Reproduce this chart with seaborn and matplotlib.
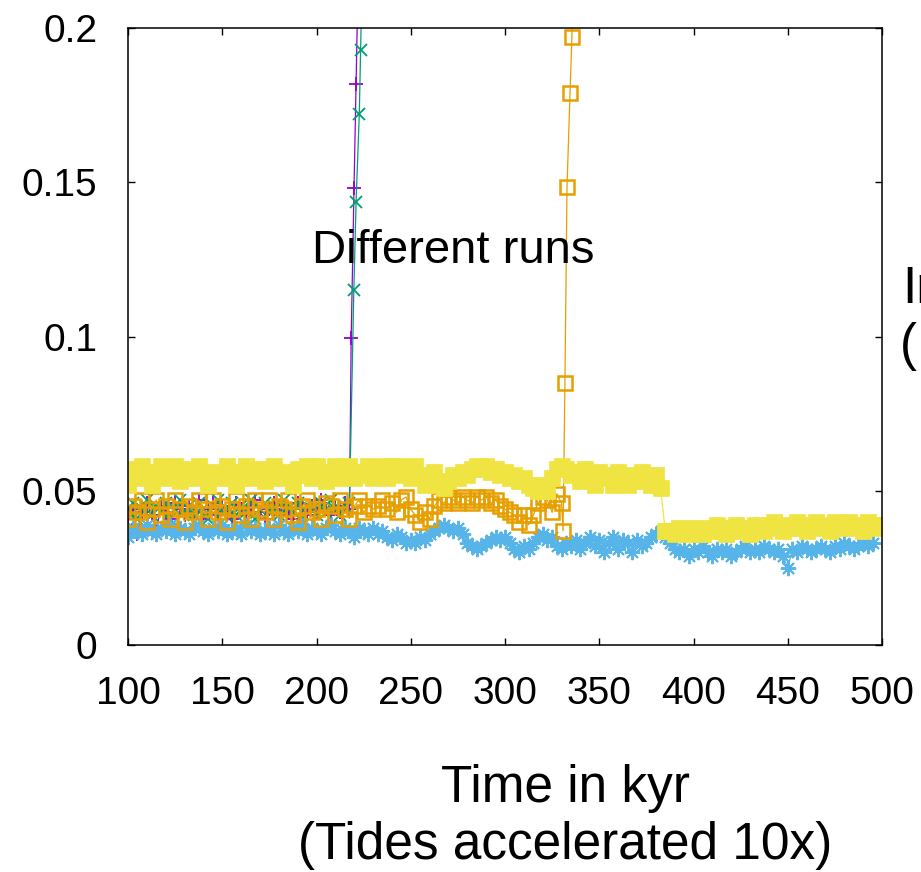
# %%
# inclination of the different runs vs time (gnuplot look)
import numpy as np
import matplotlib
matplotlib.use('Agg')
import matplotlib.pyplot as plt
import seaborn as sns

# %%
# data read off the figure, sampled every 2.5 kyr
# run 1 (purple +) - goes unstable at ~218 kyr
t_purple = np.r_[np.arange(100, 217.51, 2.5), [218.4, 219.9, 221.0, 222.2]]
inc_purple = [0.041, 0.044, 0.036, 0.043, 0.046, 0.042, 0.037, 0.045, 0.043, 0.041,
              0.046, 0.044, 0.042, 0.045, 0.043, 0.047, 0.041, 0.044, 0.046, 0.042,
              0.045, 0.043, 0.041, 0.046, 0.044, 0.042, 0.045, 0.047, 0.043, 0.041,
              0.044, 0.046, 0.042, 0.045, 0.043, 0.041, 0.046, 0.044, 0.042, 0.045,
              0.043, 0.047, 0.044, 0.042, 0.045, 0.043, 0.046, 0.044,
              0.0995, 0.148, 0.182, 0.22]

# run 2 (green x) - goes unstable at ~220 kyr
t_green = np.r_[np.arange(100, 217.51, 2.5), [219.8, 221.0, 222.7, 223.4, 224.5]]
inc_green = [0.043, 0.046, 0.041, 0.044, 0.047, 0.042, 0.045, 0.043, 0.046, 0.041,
             0.044, 0.047, 0.043, 0.045, 0.042, 0.046, 0.044, 0.041, 0.045, 0.047,
             0.043, 0.044, 0.046, 0.042, 0.045, 0.043, 0.047, 0.041, 0.044, 0.046,
             0.043, 0.045, 0.042, 0.047, 0.044, 0.043, 0.046, 0.041, 0.045, 0.044,
             0.042, 0.046, 0.043, 0.047, 0.044, 0.042, 0.045, 0.046,
             0.115, 0.1437, 0.172, 0.193, 0.225]

# run 3 (light blue *)
t_blue = np.arange(100, 495.01, 2.5)
inc_blue = [0.035, 0.038, 0.037, 0.036, 0.039, 0.037, 0.036, 0.038, 0.037, 0.039,
            0.036, 0.038, 0.037, 0.036, 0.038, 0.039, 0.037, 0.036, 0.038, 0.037,
            0.039, 0.036, 0.037, 0.038, 0.036, 0.039, 0.037, 0.038, 0.036, 0.037,
            0.038, 0.036, 0.039, 0.037, 0.036, 0.038, 0.037, 0.039, 0.036, 0.038,
            0.037, 0.036, 0.038, 0.039, 0.037, 0.036, 0.038, 0.037, 0.035, 0.038,
            0.037, 0.036, 0.038,
            0.036, 0.037, 0.035, 0.034, 0.036, 0.035, 0.033, 0.034, 0.033, 0.035, 0.034, 0.036,
            0.037, 0.038, 0.039, 0.038, 0.037, 0.038, 0.036,
            0.033, 0.032, 0.031, 0.032, 0.033, 0.034,
            0.035, 0.034, 0.035, 0.033,
            0.031, 0.030, 0.032, 0.031, 0.033,
            0.035, 0.036, 0.034, 0.035,
            0.032, 0.031, 0.033, 0.032,
            0.034, 0.031, 0.033, 0.035, 0.032, 0.034, 0.030, 0.033, 0.035, 0.031,
            0.034, 0.033, 0.030, 0.034, 0.032, 0.033, 0.035,
            0.036, 0.037, 0.035, 0.033, 0.031,
            0.030, 0.031, 0.029, 0.031, 0.030, 0.032, 0.030, 0.029, 0.031, 0.030,
            0.031, 0.029, 0.030, 0.031, 0.032, 0.030, 0.031, 0.030, 0.032, 0.031,
            0.030, 0.031, 0.029, 0.025, 0.031, 0.030, 0.032, 0.031, 0.030, 0.031,
            0.032, 0.031, 0.030, 0.032, 0.031, 0.033, 0.032, 0.031, 0.032, 0.033,
            0.032, 0.033]

# run 4 (orange open squares) - goes unstable at ~331 kyr
t_orange = np.r_[np.arange(100, 330.01, 2.5), [330.8, 331.8, 332.9, 334.5, 335.5, 336.5]]
inc_orange = [0.041, 0.045, 0.043, 0.047, 0.040, 0.044, 0.047, 0.042, 0.045, 0.041,
              0.047, 0.044, 0.040, 0.045, 0.043, 0.047, 0.044, 0.041, 0.047, 0.043,
              0.045, 0.040, 0.044, 0.047, 0.042, 0.045, 0.041, 0.047, 0.044, 0.043,
              0.047, 0.041, 0.045, 0.044, 0.047, 0.042, 0.040, 0.045, 0.047, 0.043,
              0.044, 0.041, 0.046, 0.045, 0.042, 0.047, 0.044, 0.041, 0.045, 0.047,
              0.043, 0.045, 0.044,
              0.045, 0.047, 0.044, 0.046, 0.043, 0.047, 0.048,
              0.044, 0.042, 0.040, 0.043, 0.041,
              0.045, 0.047, 0.046, 0.048, 0.047, 0.046, 0.048, 0.047, 0.046, 0.048,
              0.047, 0.048, 0.046, 0.047,
              0.045, 0.044, 0.043, 0.042,
              0.040, 0.042, 0.039, 0.042,
              0.046, 0.048, 0.047,
              0.043, 0.049, 0.046,
              0.037, 0.085, 0.1485, 0.179, 0.197, 0.225]

# run 5 (yellow filled squares)
t_yellow = np.arange(100, 500.01, 2.5)
inc_yellow = [0.052, 0.057, 0.054, 0.058, 0.055, 0.052, 0.056, 0.058, 0.054, 0.055,
              0.058, 0.053, 0.055, 0.057, 0.054, 0.058, 0.055, 0.052, 0.056, 0.055,
              0.054, 0.058, 0.056, 0.052, 0.055, 0.058, 0.054, 0.055, 0.057, 0.053,
              0.055, 0.058, 0.054, 0.056, 0.055, 0.052, 0.057, 0.055, 0.058, 0.054,
              0.058, 0.055, 0.053, 0.056, 0.058, 0.054, 0.055, 0.058, 0.054, 0.056,
              0.055, 0.058, 0.054,
              0.056, 0.058, 0.054, 0.058, 0.055, 0.058, 0.056, 0.054, 0.058, 0.055,
              0.052, 0.054, 0.056,
              0.052, 0.051, 0.053, 0.055, 0.054, 0.056, 0.055, 0.057, 0.058, 0.057,
              0.058, 0.056, 0.057, 0.055, 0.056, 0.054, 0.055, 0.053, 0.054, 0.052,
              0.051, 0.050, 0.052, 0.050, 0.054, 0.057, 0.058,
              0.057, 0.055, 0.056, 0.053, 0.057, 0.055, 0.052, 0.056, 0.054, 0.055,
              0.052, 0.056, 0.054, 0.052, 0.055, 0.053, 0.056, 0.054, 0.052, 0.055,
              0.051,
              0.037, 0.037, 0.036, 0.038, 0.037, 0.036, 0.038, 0.037, 0.036, 0.038,
              0.037, 0.039, 0.037, 0.036, 0.038, 0.039, 0.037, 0.038, 0.036, 0.039,
              0.038, 0.037, 0.039, 0.040, 0.038, 0.037, 0.039, 0.038, 0.040, 0.038,
              0.037, 0.039, 0.040, 0.038, 0.039, 0.037, 0.040, 0.038, 0.039, 0.040,
              0.038, 0.039, 0.037, 0.040, 0.039, 0.038, 0.039]

xticks = [100, 150, 200, 250, 300, 350, 400, 450, 500]
yticks = [0, 0.05, 0.1, 0.15, 0.2]
ytick_labels = ['0', '0.05', '0.1', '0.15', '0.2']

# %%
sns.set_theme(style='ticks')
plt.rcParams['font.family'] = ['Liberation Sans', 'DejaVu Sans']
plt.rcParams['text.color'] = 'black'

fig = plt.figure(figsize=(9.21, 8.72), dpi=100)
ax = fig.add_axes([128/921, 1 - 645/872, (882 - 128)/921, (645 - 28)/872])

# gnuplot default colours / point types, drawn in gnuplot order
runs = [
    (t_purple, inc_purple, '#9400d3', '+', 'none', 10, 1.3),
    (t_green, inc_green, '#009e73', 'x', 'none', 8, 1.3),
    (t_blue, inc_blue, '#56b4e9', (8, 2, 0), 'none', 11, 1.4),
    (t_orange, inc_orange, '#e69f00', 's', 'none', 9.5, 1.8),
    (t_yellow, inc_yellow, '#f0e442', 's', '#f0e442', 11, 0.5),
]
for t, inc, col, mk, fc, ms, mew in runs:
    assert len(t) == len(inc)
    sns.lineplot(x=t, y=inc, ax=ax, color=col, marker=mk, markersize=ms,
                 markerfacecolor=fc, markeredgecolor=col, mew=mew,
                 linewidth=0.9, estimator=None, sort=False)

ax.set_xlim(100, 500)
ax.set_ylim(0, 0.2)
ax.set_xticks(xticks)
ax.set_yticks(yticks)
ax.set_yticklabels(ytick_labels)
ax.set_xlabel('')
ax.set_ylabel('')
ax.tick_params(direction='in', top=True, right=True, length=5, width=1,
               labelsize=28, pad=22, colors='black')
for s in ax.spines.values():
    s.set_visible(True)
    s.set_linewidth(1.1)
    s.set_color('black')

ax.text(197.6, 0.1238, 'Different runs', fontsize=34, ha='left', va='baseline')

# x label (centred a bit right of the axes, like the original)
fig.text(565/921, 1 - 802/872, 'Time in kyr', fontsize=37, ha='center', va='baseline')
fig.text(565/921, 1 - 859/872, '(Tides accelerated 10x)', fontsize=37, ha='center', va='baseline')

# right-hand label, cut by the figure edge as in the original
fig.text(902/921, 1 - 303/872, 'In', fontsize=37, ha='left', va='baseline')
fig.text(900/921, 1 - 360/872, '(', fontsize=37, ha='left', va='baseline')

plt.savefig('out.png', dpi=100)
